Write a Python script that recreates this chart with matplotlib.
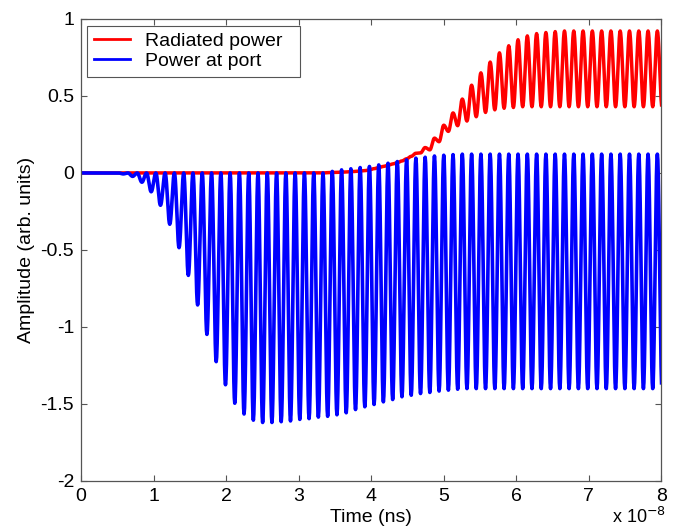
import numpy as np
import matplotlib
matplotlib.use("Agg")
import matplotlib.pyplot as plt

plt.rcParams['font.family'] = ['Liberation Sans', 'DejaVu Sans']
plt.rcParams['axes.unicode_minus'] = False

# carrier timing (ns)
first_trough = 0.583
period = 0.128

# blue trace ("Power at port"): value at each trough / peak of the oscillation
port_troughs = ([-0.006, -0.022, -0.06, -0.122, -0.21, -0.333, -0.485, -0.665, -0.857, -1.048,
                 -1.225, -1.375, -1.495, -1.565, -1.605, -1.62, -1.62, -1.615, -1.61, -1.60,
                 -1.595, -1.585, -1.58, -1.57, -1.557, -1.536, -1.518, -1.503, -1.486, -1.471,
                 -1.453, -1.443, -1.432, -1.425, -1.416, -1.41, -1.404]
                + [-1.40] * 22)
port_peaks = ([0.0] * 22
              + [0.01, 0.02, 0.027, 0.035, 0.042, 0.052, 0.063, 0.074, 0.085, 0.096,
                 0.102, 0.11, 0.115, 0.119]
              + [0.122] * 22)

# red trace ("Radiated power")
rad_troughs = ([0.0] * 22
               + [0.002, 0.004, 0.007, 0.01, 0.015, 0.028, 0.042, 0.058, 0.078, 0.108,
                  0.13, 0.15, 0.203, 0.27, 0.307, 0.337, 0.365, 0.393, 0.41, 0.42, 0.425]
               + [0.43] * 16)
rad_peaks = ([0.0] * 22
             + [0.003, 0.005, 0.008, 0.012, 0.02, 0.035, 0.05, 0.067, 0.092, 0.128,
                0.165, 0.226, 0.31, 0.39, 0.48, 0.57, 0.65, 0.72, 0.78, 0.826,
                0.865, 0.89, 0.905, 0.912, 0.918]
             + [0.922] * 11)

t_tr = first_trough + period * np.arange(len(port_troughs))
t_pk = t_tr[:-1] + period / 2

# extrema in time order: trough, peak, trough, ...
t_ext = [0.0, first_trough - period / 2]
port_ext = [0.0, 0.0]
rad_ext = [0.0, 0.0]
for i in range(len(t_tr)):
    t_ext.append(t_tr[i]); port_ext.append(port_troughs[i]); rad_ext.append(rad_troughs[i])
    if i < len(t_pk):
        t_ext.append(t_pk[i]); port_ext.append(port_peaks[i]); rad_ext.append(rad_peaks[i])


def half_waves(tx, vx, n=10):
    # join successive extrema with half-cosine swings so the trace looks like a sine
    ts, vs = [tx[0]], [vx[0]]
    s = np.linspace(0, 1, n + 1)[1:]
    w = (1 - np.cos(np.pi * s)) / 2
    for a in range(len(tx) - 1):
        ts.extend(tx[a] + (tx[a + 1] - tx[a]) * s)
        vs.extend(vx[a] + (vx[a + 1] - vx[a]) * w)
    return ts, vs


t_port, v_port = half_waves(t_ext, port_ext)
t_rad, v_rad = half_waves(t_ext, rad_ext)

fig = plt.figure(figsize=(6.73, 5.31), dpi=100)
ax = fig.add_axes([0.1204, 0.0942, 0.8625, 0.8701])

ax.plot(t_rad, v_rad, color='#ff0000', lw=2.5, label='Radiated power')
ax.plot(t_port, v_port, color='#0000ff', lw=2.6, label='Power at port')

ax.set_xlim(0, 8)
ax.set_ylim(-2, 1)
ax.set_xticks(range(0, 9))
ax.set_yticks([-2, -1.5, -1, -0.5, 0, 0.5, 1])
ax.set_yticklabels(['-2', '-1.5', '-1', '-0.5', '0', '0.5', '1'])
ax.tick_params(direction='in', top=True, right=True, length=4, width=0.8,
               color='#555555', labelsize=14, pad=5)
for sp in ax.spines.values():
    sp.set_color('#555555')
    sp.set_linewidth(0.9)

ax.set_xlabel('Time (ns)', fontsize=14, labelpad=3)
ax.set_ylabel('Amplitude (arb. units)', fontsize=14, labelpad=4)
fig.text(0.91, 0.008, r'x 10$^{-8}$', fontsize=13, ha='left', va='bottom')

leg = ax.legend(loc='upper left', bbox_to_anchor=(0.0103, 0.985, 0.367, 0.0),
                mode='expand', borderaxespad=0,
                fontsize=14, fancybox=False, edgecolor='#555555', framealpha=1,
                handlelength=1.85, handletextpad=0.8, labelspacing=0.12, borderpad=0.35)
leg.get_frame().set_linewidth(0.8)
for ln in leg.get_lines():
    ln.set_linewidth(2.0)

fig.savefig('out.png', dpi=100)
